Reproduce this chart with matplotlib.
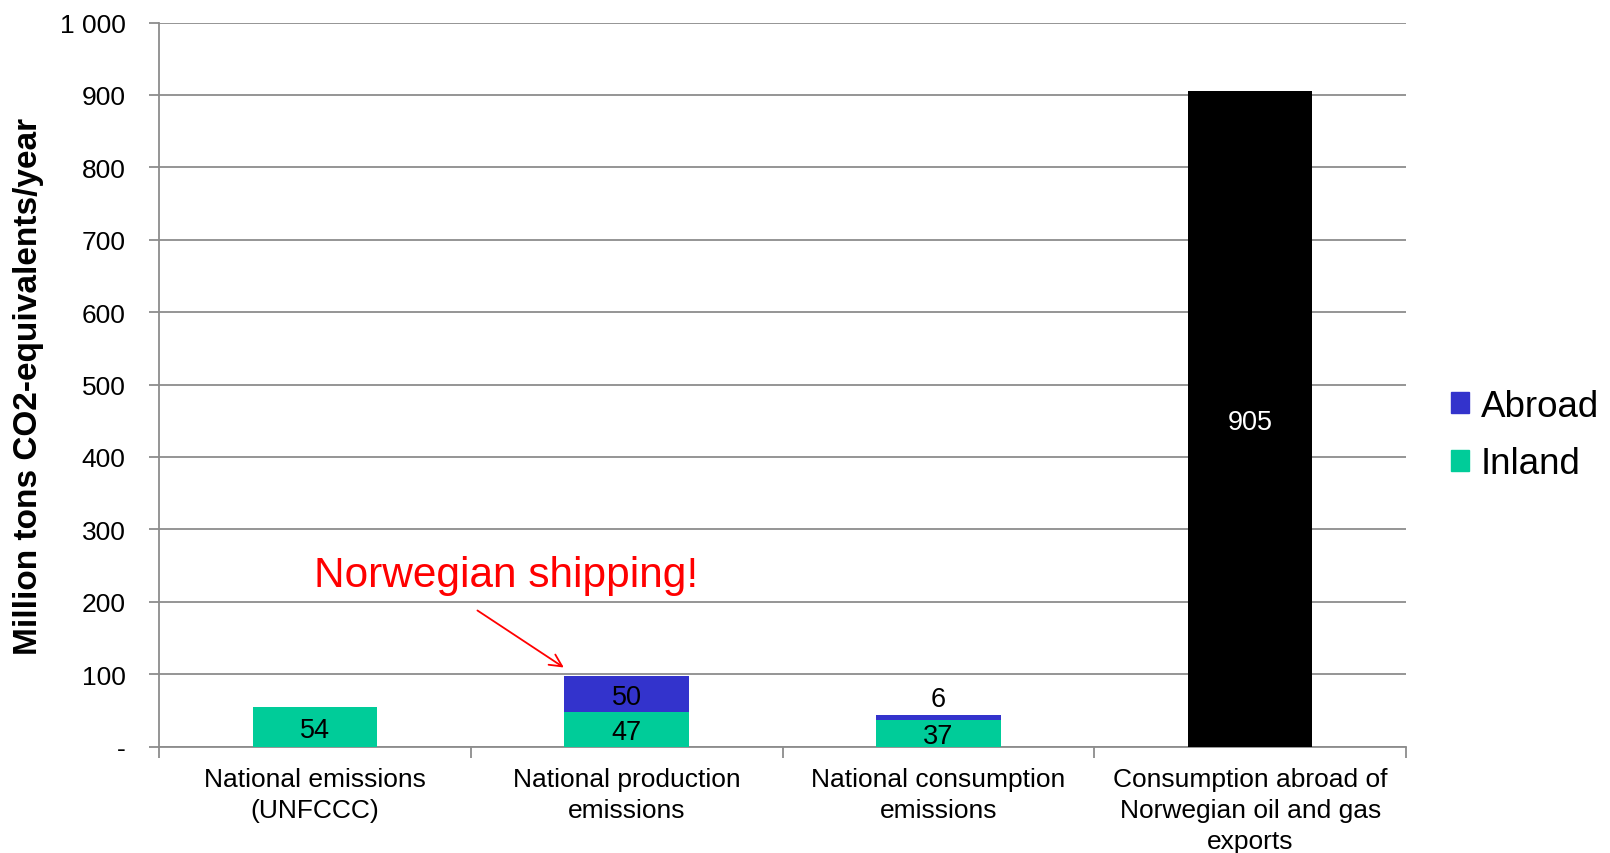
import matplotlib
matplotlib.use("Agg")
import matplotlib.pyplot as plt
from matplotlib.patches import Patch

# Data (million tons CO2-equivalents per year)
categories = [
    "National emissions\n(UNFCCC)",
    "National production\nemissions",
    "National consumption\nemissions",
    "Consumption abroad of\nNorwegian oil and gas\nexports",
]
inland = [54, 47, 37, 0]
abroad = [0, 50, 6, 0]
exports = [0, 0, 0, 905]
y_ticks = [0, 100, 200, 300, 400, 500, 600, 700, 800, 900, 1000]
y_tick_labels = ["-", "100", "200", "300", "400", "500", "600", "700", "800", "900", "1 000"]

INLAND_C = "#00CC99"
ABROAD_C = "#3333CC"
GRID_C = "#8C8C8C"

plt.rcParams["font.family"] = ["Liberation Sans", "DejaVu Sans"]

fig = plt.figure(figsize=(16.10, 8.54), dpi=100)
ax = fig.add_axes([159 / 1610, 1 - 747.5 / 854, 1247 / 1610, 724 / 854])

x = list(range(len(categories)))
width = 0.4
ax.bar(x, inland, width, color=INLAND_C, zorder=3)
ax.bar(x, abroad, width, bottom=inland, color=ABROAD_C, zorder=3)
ax.bar(x, exports, width, color="black", zorder=3)

# Value labels
lab_fs = 19.5
for i in range(len(x)):
    if inland[i]:
        ax.text(x[i], inland[i] / 2, str(inland[i]), ha="center", va="center_baseline",
                fontsize=lab_fs, color="black", zorder=4)
    if abroad[i]:
        if abroad[i] >= 20:
            ax.text(x[i], inland[i] + abroad[i] / 2, str(abroad[i]), ha="center",
                    va="center_baseline", fontsize=lab_fs, color="black", zorder=4)
        else:
            ax.annotate(str(abroad[i]), (x[i], inland[i] + abroad[i]),
                        xytext=(0, 14), textcoords="offset points",
                        ha="center", va="center_baseline", fontsize=lab_fs, zorder=4)
    if exports[i]:
        ax.text(x[i], exports[i] / 2, str(exports[i]), ha="center", va="center_baseline",
                fontsize=lab_fs, color="white", zorder=4)

# Axes styling
ax.set_xlim(-0.5, 3.5)
ax.set_ylim(0, 1000)
ax.set_yticks(y_ticks)
ax.set_yticklabels(y_tick_labels, fontsize=19)
ax.tick_params(axis="y", length=7, width=1.3, color=GRID_C, pad=17)
ax.set_xticks(x)
ax.set_xticklabels(categories, fontsize=19, linespacing=1.36)
ax.tick_params(axis="x", which="major", length=0, pad=15)
ax.set_xticks([-0.5, 0.5, 1.5, 2.5, 3.5], minor=True)
ax.tick_params(axis="x", which="minor", length=8, width=1.3, color=GRID_C)
ax.grid(axis="y", color=GRID_C, linewidth=1.3, zorder=0)
ax.set_axisbelow(True)
for side in ("top", "right"):
    ax.spines[side].set_visible(False)
for side in ("left", "bottom"):
    ax.spines[side].set_color(GRID_C)
    ax.spines[side].set_linewidth(1.3)

fig.text(29 / 1610, 1 - 386 / 854, "Million tons CO2-equivalents/year",
         rotation=90, ha="center", va="center", fontsize=24, fontweight="bold")

# Callout
ax.text(-0.003, 237, "Norwegian shipping!", color="red", fontsize=30.5,
        ha="left", va="center")
ax.annotate("", xy=(0.806, 107), xytext=(0.514, 190),
            arrowprops=dict(arrowstyle="->", color="red", lw=1.3,
                            mutation_scale=22))

handles = [Patch(color=ABROAD_C, label="Abroad"), Patch(color=INLAND_C, label="Inland")]
fig.legend(handles=handles, loc="center left",
           bbox_to_anchor=(1451 / 1610, 1 - 436 / 854),
           frameon=False, fontsize=26.5, handlelength=0.5, handleheight=0.5,
           handletextpad=0.3, labelspacing=0.62, borderpad=0, borderaxespad=0)

fig.savefig("out.png", dpi=100)
